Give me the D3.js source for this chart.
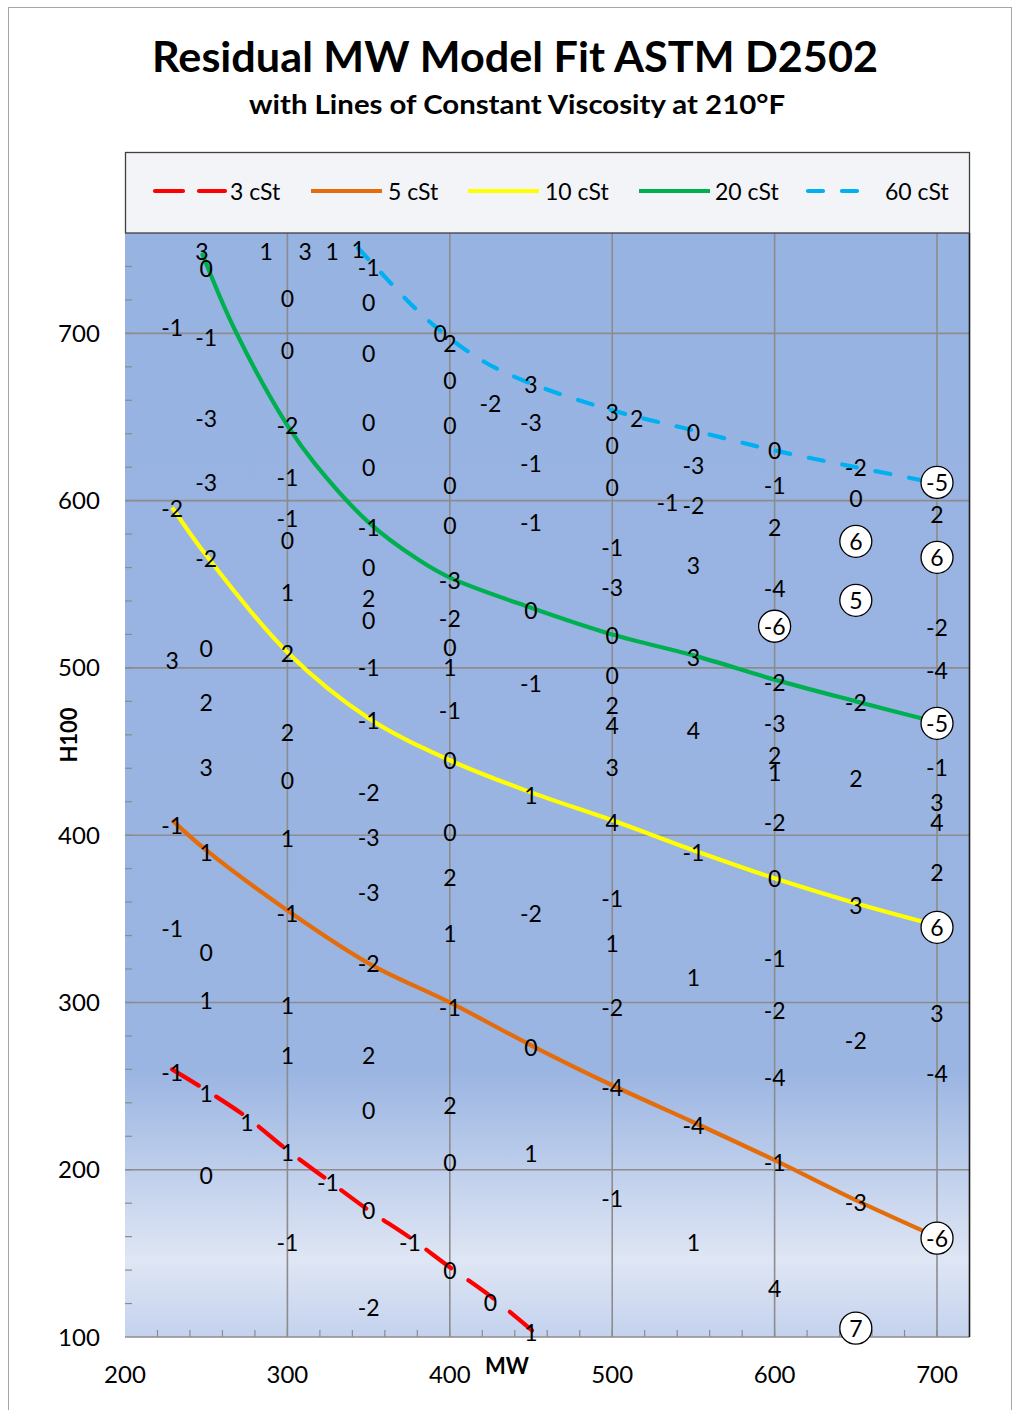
<!DOCTYPE html>
<html>
<head>
<meta charset="utf-8">
<script src="https://cdn.jsdelivr.net/npm/d3@7"></script>
<style>
  html, body { margin: 0; padding: 0; background: #fff; }
  svg { display: block; }
  text { font-family: Lato, "Open Sans", "DejaVu Sans", sans-serif; }
</style>
</head>
<body>
<svg id="chart" width="1013" height="1410"></svg>
<script>
// Axis ticks
const xTicks = [200, 300, 400, 500, 600, 700];
const yTicks = [100, 200, 300, 400, 500, 600, 700];

// Lines of constant viscosity at 210°F: [MW, H100]
const cst3 = [[229, 260], [250, 247.5], [275, 231.4], [300, 211.7], [325, 193.7], [350, 175.8],
              [375, 159.7], [400, 141.7], [425, 124.4], [450.6, 104]];
const cst5 = [[229, 409], [250, 391], [300, 355], [350, 323.4], [400, 300], [450, 274.4],
              [500, 250.5], [550, 228.4], [600, 205.7], [650, 181.8], [700, 159.7]];
const cst10 = [[229, 596], [250, 567.3], [300, 509.3], [350, 469.9], [400, 444.8], [450, 425.6],
               [500, 408.9], [550, 391], [600, 374.2], [650, 359.3], [700, 346]];
const cst20 = [[247.4, 748], [267.7, 702], [300, 645], [317, 622], [350, 587],
               [381.7, 564], [400, 554], [450, 536], [500, 520], [550, 507.5], [600, 493],
               [650, 480], [700, 467.5]];
const cst60 = [[343.5, 751], [356, 738], [378.6, 715], [400, 697], [423, 682],
               [450, 670], [500, 654], [550, 642], [600, 630], [650, 620], [697, 611]];

const seriesNames = ["3 cSt", "5 cSt", "10 cSt", "20 cSt", "60 cSt"];
const seriesColors = ["#ff0000", "#e46c0a", "#ffff00", "#00b050", "#00b0f0"];
const seriesDashes = ["31,21", null, null, null, "15,19"];
const seriesData = [cst3, cst5, cst10, cst20, cst60];

// Model residuals placed at each sample's (MW, H100)
const residuals = [
  [229, 703.6, "-1"], [229, 595.4, "-2"], [229, 504.5, "3"], [229, 405.9, "-1"], [229, 344.4, "-1"], [229, 258.3, "-1"],
  [247.4, 749, "3"], [250, 739, "0"], [250, 697.6, "-1"], [250, 649.2, "-3"], [250, 610.9, "-3"], [250, 565.5, "-2"],
  [250, 511.7, "0"], [250, 479.4, "2"], [250, 440.6, "3"], [250, 389.8, "1"], [250, 330, "0"], [250, 301.3, "1"],
  [250, 245.7, "1"], [250, 196.7, "0"],
  [287, 749, "1"], [311, 749, "3"], [327.5, 749, "1"], [343.5, 750.5, "1"],
  [275, 228.4, "1"], [325, 192.5, "-1"], [375.5, 156.7, "-1"], [425, 120.8, "0"], [450, 102.9, "1"],
  [300, 720.9, "0"], [300, 689.8, "0"], [300, 645, "-2"], [300, 613.9, "-1"], [300, 589.4, "-1"], [300, 576.3, "0"],
  [300, 545.2, "1"], [300, 508.7, "2"], [300, 461.5, "2"], [300, 432.8, "0"], [300, 398.1, "1"], [300, 353.3, "-1"],
  [300, 298.3, "1"], [300, 268.4, "1"], [300, 210.5, "1"], [300, 156.7, "-1"],
  [350, 739.4, "-1"], [350, 718.5, "0"], [350, 688, "0"], [350, 646.8, "0"], [350, 619.9, "0"], [350, 584, "-1"],
  [350, 560.1, "0"], [350, 541.6, "2"], [350, 528.4, "0"], [350, 500.4, "-1"], [350, 468.7, "-1"], [350, 425.6, "-2"],
  [350, 398.7, "-3"], [350, 365.9, "-3"], [350, 323.4, "-2"], [350, 268.4, "2"], [350, 235.6, "0"], [350, 175.8, "0"],
  [350, 117.8, "-2"],
  [394, 700, "0"], [400, 694, "2"], [400, 671.9, "0"], [400, 645, "0"], [400, 609.1, "0"], [400, 585.2, "0"],
  [400, 552.4, "-3"], [400, 529.6, "-2"], [400, 512.3, "0"], [400, 500.4, "1"], [400, 474.7, "-1"], [400, 444.8, "0"],
  [400, 401.7, "0"], [400, 374.8, "2"], [400, 341.4, "1"], [400, 297.1, "-1"], [400, 238.6, "2"], [400, 204.5, "0"],
  [400, 139.9, "0"], [425, 658.2, "-2"],
  [450, 669.5, "3"], [450, 646.8, "-3"], [450, 622.3, "-1"], [450, 587, "-1"], [450, 534.4, "0"], [450, 490.8, "-1"],
  [450, 423.9, "1"], [450, 353.3, "-2"], [450, 273.2, "0"], [450, 209.9, "1"],
  [500, 652.8, "3"], [515, 649.2, "2"], [500, 633.1, "0"], [500, 607.9, "0"], [500, 572.1, "-1"], [500, 548.2, "-3"],
  [500, 519.5, "0"], [500, 495.6, "0"], [500, 477.6, "2"], [500, 465.7, "4"], [500, 440.6, "3"], [500, 407.7, "4"],
  [500, 362.3, "-1"], [500, 335.4, "1"], [500, 297.1, "-2"], [500, 249.3, "-4"], [500, 183, "-1"],
  [550, 640.8, "0"], [550, 621.1, "-3"], [534, 599, "-1"], [550, 597.2, "-2"], [550, 561.3, "3"], [550, 506.3, "3"],
  [550, 462.7, "4"], [550, 389.8, "-1"], [550, 315.1, "1"], [550, 226.6, "-4"], [550, 156.7, "1"],
  [600, 630.1, "0"], [600, 609.1, "-1"], [600, 584, "2"], [600, 547.6, "-4"], [600, 491.4, "-2"], [600, 466.9, "-3"],
  [600, 447.8, "2"], [600, 437.6, "1"], [600, 407.7, "-2"], [600, 374.2, "0"], [600, 326.4, "-1"], [600, 295.3, "-2"],
  [600, 255.3, "-4"], [600, 204.5, "-1"], [600, 129.2, "4"],
  [650, 619.9, "-2"], [650, 601.4, "0"], [650, 479.4, "-2"], [650, 434, "2"], [650, 358.1, "3"], [650, 277.4, "-2"],
  [650, 180.6, "-3"],
  [700, 591.8, "2"], [700, 524.3, "-2"], [700, 498.6, "-4"], [700, 440.6, "-1"], [700, 419.7, "3"], [700, 407.7, "4"],
  [700, 377.8, "2"], [700, 293.5, "3"], [700, 257.7, "-4"]
];

// Large residuals, drawn circled
const circled = [
  [600, 524.9, "-6"], [650, 575.7, "6"], [650, 540.4, "5"], [650, 105.3, "7"],
  [700, 610.9, "-5"], [700, 566.1, "6"], [700, 466.9, "-5"], [700, 344.9, "6"], [700, 159.1, "-6"]
];

const svg = d3.select("#chart");
const plot = { left: 125, right: 969.5, top: 233, bottom: 1337 };

const x = d3.scaleLinear().domain([200, 720]).range([plot.left, plot.right]);
const y = d3.scaleLinear().domain([100, 760]).range([plot.bottom, plot.top]);

// Chart frame
svg.append("rect").attr("x", 8.5).attr("y", 7.5).attr("width", 1003).attr("height", 1410)
  .attr("fill", "#fff").attr("stroke", "#a6a6a6").attr("stroke-width", 1);

// Plot background gradient
const defs = svg.append("defs");
const grad = defs.append("linearGradient").attr("id", "plotBg")
  .attr("x1", 0).attr("y1", 0).attr("x2", 0).attr("y2", 1);
grad.append("stop").attr("offset", "0").attr("stop-color", "#97b3e2");
grad.append("stop").attr("offset", "0.76").attr("stop-color", "#9bb5e2");
grad.append("stop").attr("offset", "0.93").attr("stop-color", "#dfe6f4");
grad.append("stop").attr("offset", "1").attr("stop-color", "#c4d2ee");

svg.append("rect").attr("x", plot.left).attr("y", plot.top)
  .attr("width", plot.right - plot.left).attr("height", plot.bottom - plot.top)
  .attr("fill", "url(#plotBg)");

// Gridlines
const grid = svg.append("g").attr("stroke", "#8c8c8c").attr("stroke-width", 1.6);
grid.selectAll(".gx").data(xTicks.filter(d => d > 200)).join("line")
  .attr("x1", d => x(d)).attr("x2", d => x(d))
  .attr("y1", plot.top).attr("y2", plot.bottom);
grid.selectAll(".gy").data(yTicks.filter(d => d > 100)).join("line")
  .attr("x1", plot.left).attr("x2", plot.right)
  .attr("y1", d => y(d)).attr("y2", d => y(d));

// Minor ticks
const minor = svg.append("g").attr("stroke", "#8c8c8c").attr("stroke-width", 1.2);
minor.selectAll(".mx").data(d3.range(220, 720, 20)).join("line")
  .attr("x1", d => x(d)).attr("x2", d => x(d))
  .attr("y1", plot.bottom).attr("y2", plot.bottom - 7);
minor.selectAll(".my").data(d3.range(120, 760, 20)).join("line")
  .attr("x1", plot.left).attr("x2", plot.left + 7)
  .attr("y1", d => y(d)).attr("y2", d => y(d));

// Axis lines
svg.append("line").attr("x1", plot.left).attr("x2", plot.right)
  .attr("y1", plot.bottom).attr("y2", plot.bottom)
  .attr("stroke", "#8c8c8c").attr("stroke-width", 1.6);
svg.append("line").attr("x1", plot.right).attr("x2", plot.right)
  .attr("y1", plot.top).attr("y2", plot.bottom)
  .attr("stroke", "#1a1a1a").attr("stroke-width", 1.6);

// Viscosity lines
const line = d3.line().x(d => x(d[0])).y(d => y(d[1])).curve(d3.curveCatmullRom.alpha(0.5));
svg.append("g").selectAll("path").data(seriesData).join("path")
  .attr("d", line)
  .attr("fill", "none")
  .attr("stroke", (d, i) => seriesColors[i])
  .attr("stroke-width", 4.2)
  .attr("stroke-linecap", (d, i) => seriesDashes[i] ? "round" : "butt")
  .attr("stroke-dasharray", (d, i) => seriesDashes[i]);

// Residual labels
const labelFont = 23;
svg.append("g").selectAll("text").data(residuals).join("text")
  .attr("x", d => x(d[0])).attr("y", d => y(d[1]))
  .attr("text-anchor", "middle").attr("dominant-baseline", "central")
  .attr("font-size", labelFont).attr("fill", "#000")
  .text(d => d[2]);

const circ = svg.append("g").selectAll("g").data(circled).join("g")
  .attr("transform", d => `translate(${x(d[0])},${y(d[1])})`);
circ.append("circle").attr("r", 16).attr("fill", "#fff")
  .attr("stroke", "#000").attr("stroke-width", 1.3);
circ.append("text").attr("text-anchor", "middle").attr("dominant-baseline", "central")
  .attr("font-size", labelFont).attr("fill", "#000")
  .text(d => d[2]);

// Axis tick labels
svg.append("g").selectAll("text").data(xTicks).join("text")
  .attr("x", d => x(d)).attr("y", 1373)
  .attr("text-anchor", "middle").attr("dominant-baseline", "central")
  .attr("font-size", 24).text(d => d);
svg.append("g").selectAll("text").data(yTicks).join("text")
  .attr("x", 79).attr("y", d => y(d) - 1)
  .attr("text-anchor", "middle").attr("dominant-baseline", "central")
  .attr("font-size", 24).text(d => d);

// Axis titles
svg.append("text").attr("x", 507).attr("y", 1365)
  .attr("text-anchor", "middle").attr("dominant-baseline", "central")
  .attr("font-size", 22).attr("font-weight", "bold").text("MW");
svg.append("text").attr("transform", "translate(68,735) rotate(-90)")
  .attr("text-anchor", "middle").attr("dominant-baseline", "central")
  .attr("font-size", 22).attr("font-weight", "bold").text("H100");

// Titles
svg.append("text").attr("x", 515).attr("y", 72).attr("text-anchor", "middle")
  .attr("font-size", 42).attr("font-weight", "bold")
  .attr("textLength", 726).attr("lengthAdjust", "spacingAndGlyphs")
  .text("Residual MW Model Fit ASTM D2502");
svg.append("text").attr("x", 517).attr("y", 114).attr("text-anchor", "middle")
  .attr("font-size", 26).attr("font-weight", "bold")
  .attr("textLength", 536).attr("lengthAdjust", "spacingAndGlyphs")
  .text("with Lines of Constant Viscosity at 210°F");

// Legend
svg.append("rect").attr("x", 125.5).attr("y", 152.5).attr("width", 844).attr("height", 80.5)
  .attr("fill", "#f3f4f8").attr("stroke", "#3f3f3f").attr("stroke-width", 1.3);
const legendX = [155, 311, 468, 639, 808];
const legendLen = [70, 71, 71, 71, 55];
const legendTextX = [230, 388, 545, 715, 885];
const leg = svg.append("g").selectAll("g").data(seriesNames).join("g");
leg.append("line")
  .attr("x1", (d, i) => legendX[i]).attr("x2", (d, i) => legendX[i] + legendLen[i])
  .attr("y1", 191).attr("y2", 191)
  .attr("stroke", (d, i) => seriesColors[i]).attr("stroke-width", 4.2)
  .attr("stroke-linecap", (d, i) => seriesDashes[i] ? "round" : "butt")
  .attr("stroke-dasharray", (d, i) => i === 0 ? "28,16" : seriesDashes[i]);
leg.append("text")
  .attr("x", (d, i) => legendTextX[i]).attr("y", 191)
  .attr("dominant-baseline", "central").attr("font-size", 23)
  .text(d => d);
</script>
</body>
</html>
